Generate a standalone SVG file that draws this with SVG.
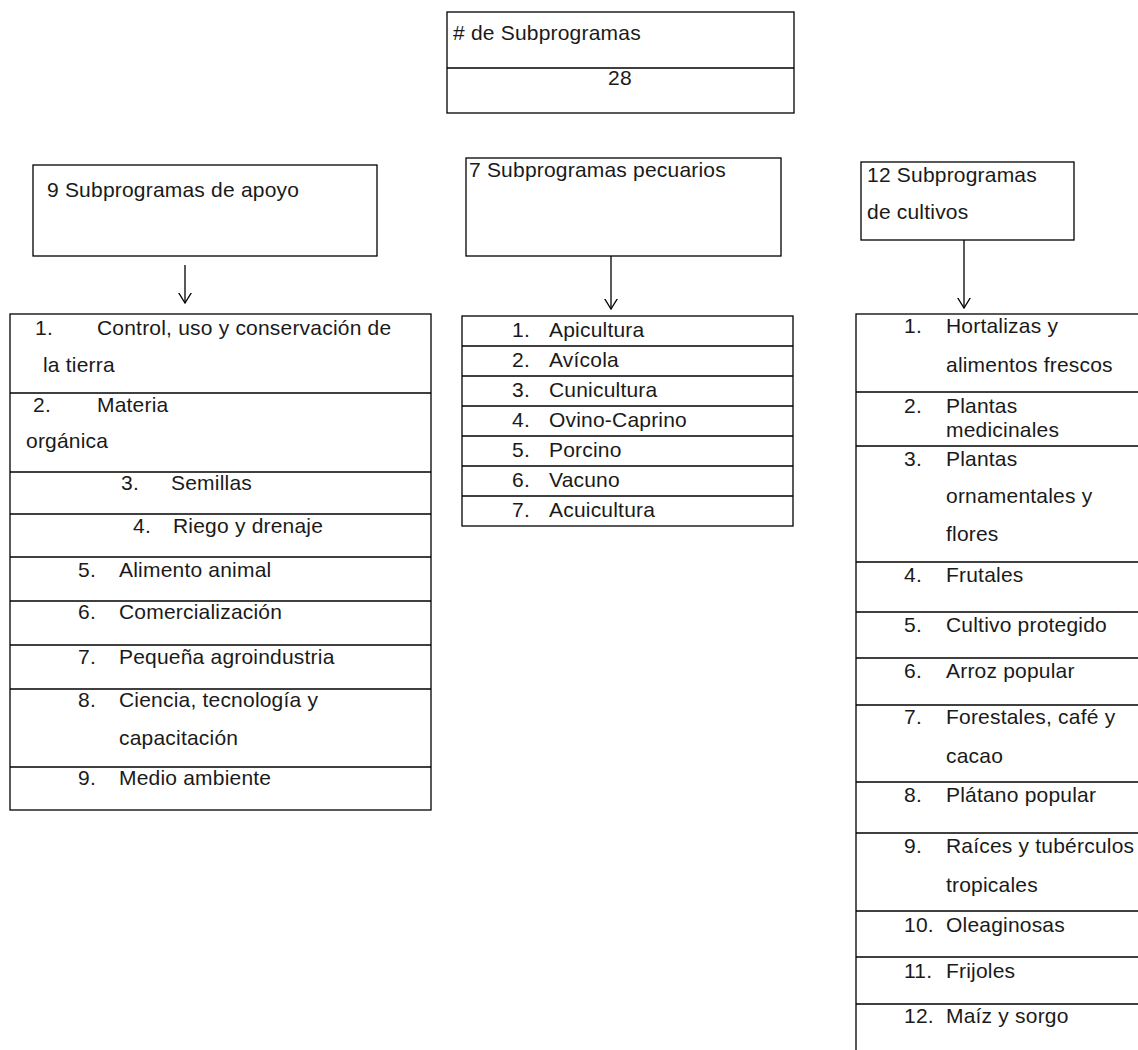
<svg xmlns="http://www.w3.org/2000/svg" width="1138" height="1050" viewBox="0 0 1138 1050">
<style>
.box{fill:#fff;stroke:#000;stroke-width:1.3}
.ln{stroke:#000;stroke-width:1.3;fill:none}
text{font-family:"Liberation Sans",Arial,sans-serif;font-size:21px;letter-spacing:0.2px;fill:#1a1a1a}
.c{text-anchor:middle}
</style>
<defs>
<marker id="ah" markerUnits="userSpaceOnUse" viewBox="0 0 11 14" refX="10.5" refY="7" markerWidth="11" markerHeight="14" orient="auto">
<path d="M0,0.5 L10.5,7 L0,13.5" fill="none" stroke="#000" stroke-width="1.3"/>
</marker>
</defs>
<rect width="1138" height="1050" fill="#fff"/>

<g id="total">
<rect class="box" x="447" y="12" width="347" height="101"/>
<line class="ln" x1="447" y1="68" x2="794" y2="68"/>
<text x="453" y="40">#  de Subprogramas</text>
<text class="c" x="620" y="85">28</text>
</g>

<g id="apoyo">
<rect class="box" x="33" y="165" width="344" height="91"/>
<text x="47" y="197">9 Subprogramas de apoyo</text>
</g>

<g id="pecuarios">
<rect class="box" x="466" y="158" width="315" height="98"/>
<text x="469" y="177">7 Subprogramas pecuarios</text>
</g>

<g id="cultivos">
<rect class="box" x="861" y="162" width="213" height="78"/>
<text x="867" y="182">12 Subprogramas</text>
<text x="867" y="219">de cultivos</text>
</g>

<g id="lista-apoyo">
<rect class="box" x="10" y="314" width="421" height="496"/>
<line class="ln" x1="10" y1="393" x2="431" y2="393"/>
<line class="ln" x1="10" y1="472" x2="431" y2="472"/>
<line class="ln" x1="10" y1="514" x2="431" y2="514"/>
<line class="ln" x1="10" y1="557" x2="431" y2="557"/>
<line class="ln" x1="10" y1="601" x2="431" y2="601"/>
<line class="ln" x1="10" y1="645" x2="431" y2="645"/>
<line class="ln" x1="10" y1="689" x2="431" y2="689"/>
<line class="ln" x1="10" y1="767" x2="431" y2="767"/>
<text x="35" y="335">1.</text><text x="97" y="335">Control, uso y conservación de</text>
<text x="43" y="372">la tierra</text>
<text x="33" y="412">2.</text><text x="97" y="412">Materia</text>
<text x="26" y="448">orgánica</text>
<text x="121" y="490">3.</text><text x="171" y="490">Semillas</text>
<text x="133" y="533">4.</text><text x="173" y="533">Riego y drenaje</text>
<text x="78" y="577">5.</text><text x="119" y="577">Alimento animal</text>
<text x="78" y="619">6.</text><text x="119" y="619">Comercialización</text>
<text x="78" y="664">7.</text><text x="119" y="664">Pequeña agroindustria</text>
<text x="78" y="707">8.</text><text x="119" y="707">Ciencia, tecnología y</text>
<text x="119" y="745">capacitación</text>
<text x="78" y="785">9.</text><text x="119" y="785">Medio ambiente</text>
</g>

<g id="lista-pecuarios">
<rect class="box" x="462" y="316" width="331" height="210"/>
<line class="ln" x1="462" y1="346" x2="793" y2="346"/>
<line class="ln" x1="462" y1="376" x2="793" y2="376"/>
<line class="ln" x1="462" y1="406" x2="793" y2="406"/>
<line class="ln" x1="462" y1="436" x2="793" y2="436"/>
<line class="ln" x1="462" y1="466" x2="793" y2="466"/>
<line class="ln" x1="462" y1="496" x2="793" y2="496"/>
<text x="512" y="337">1.</text><text x="549" y="337">Apicultura</text>
<text x="512" y="367">2.</text><text x="549" y="367">Avícola</text>
<text x="512" y="397">3.</text><text x="549" y="397">Cunicultura</text>
<text x="512" y="427">4.</text><text x="549" y="427">Ovino-Caprino</text>
<text x="512" y="457">5.</text><text x="549" y="457">Porcino</text>
<text x="512" y="487">6.</text><text x="549" y="487">Vacuno</text>
<text x="512" y="517">7.</text><text x="549" y="517">Acuicultura</text>
</g>

<g id="lista-cultivos">
<rect class="box" x="856" y="314" width="320" height="760"/>
<line class="ln" x1="856" y1="392" x2="1176" y2="392"/>
<line class="ln" x1="856" y1="446" x2="1176" y2="446"/>
<line class="ln" x1="856" y1="562" x2="1176" y2="562"/>
<line class="ln" x1="856" y1="612" x2="1176" y2="612"/>
<line class="ln" x1="856" y1="658" x2="1176" y2="658"/>
<line class="ln" x1="856" y1="705" x2="1176" y2="705"/>
<line class="ln" x1="856" y1="782" x2="1176" y2="782"/>
<line class="ln" x1="856" y1="833" x2="1176" y2="833"/>
<line class="ln" x1="856" y1="911" x2="1176" y2="911"/>
<line class="ln" x1="856" y1="957" x2="1176" y2="957"/>
<line class="ln" x1="856" y1="1004" x2="1176" y2="1004"/>
<text x="904" y="333">1.</text><text x="946" y="333">Hortalizas y</text>
<text x="946" y="372">alimentos frescos</text>
<text x="904" y="413">2.</text><text x="946" y="413">Plantas</text>
<text x="946" y="437">medicinales</text>
<text x="904" y="466">3.</text><text x="946" y="466">Plantas</text>
<text x="946" y="503">ornamentales y</text>
<text x="946" y="541">flores</text>
<text x="904" y="582">4.</text><text x="946" y="582">Frutales</text>
<text x="904" y="632">5.</text><text x="946" y="632">Cultivo protegido</text>
<text x="904" y="678">6.</text><text x="946" y="678">Arroz popular</text>
<text x="904" y="724">7.</text><text x="946" y="724">Forestales, café y</text>
<text x="946" y="763">cacao</text>
<text x="904" y="802">8.</text><text x="946" y="802">Plátano popular</text>
<text x="904" y="853">9.</text><text x="946" y="853">Raíces y tubérculos</text>
<text x="946" y="892">tropicales</text>
<text x="904" y="932">10.</text><text x="946" y="932">Oleaginosas</text>
<text x="904" y="978">11.</text><text x="946" y="978">Frijoles</text>
<text x="904" y="1023">12.</text><text x="946" y="1023">Maíz y sorgo</text>
</g>

<g id="connectors">
<line class="ln" x1="185" y1="265" x2="185" y2="303" marker-end="url(#ah)"/>
<line class="ln" x1="611" y1="256" x2="611" y2="309" marker-end="url(#ah)"/>
<line class="ln" x1="964" y1="240" x2="964" y2="308" marker-end="url(#ah)"/>
</g>
</svg>
